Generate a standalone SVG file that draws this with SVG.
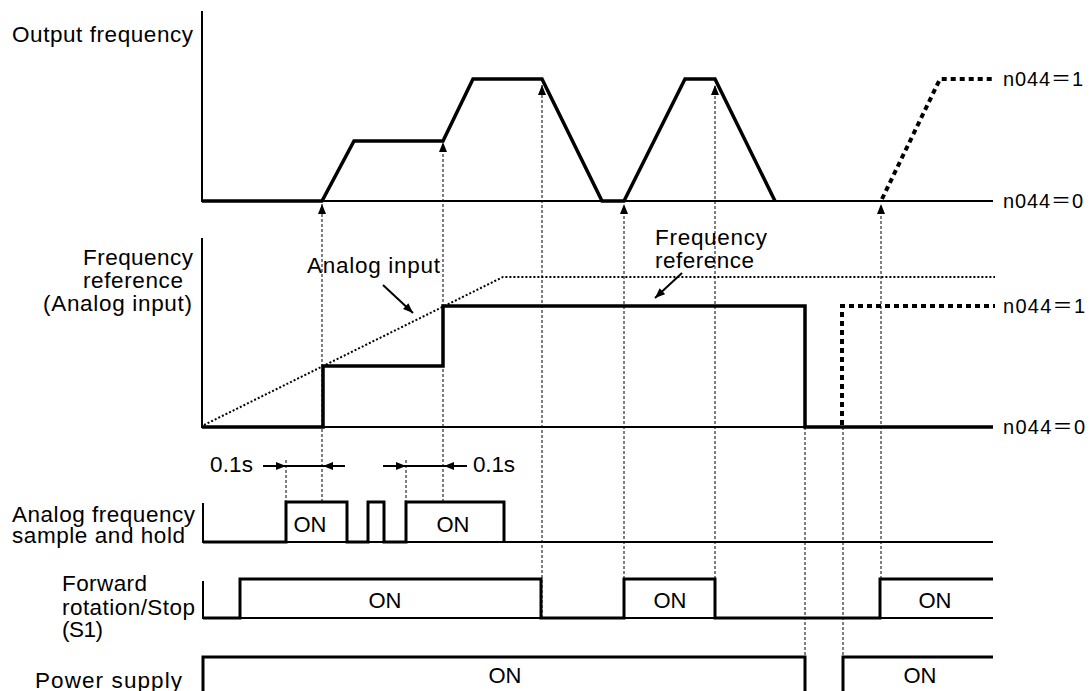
<svg xmlns="http://www.w3.org/2000/svg" width="1090" height="691" viewBox="0 0 1090 691">
<style>
text{font-family:"Liberation Sans",Arial,sans-serif;font-size:22.5px;fill:#000}
.n{font-family:"Liberation Sans","Noto Sans CJK JP",sans-serif;font-size:20px}
.on{font-size:22px;text-anchor:middle}
.ax{fill:none;stroke:#000;stroke-width:2}
.tr{fill:none;stroke:#000;stroke-width:3.5;stroke-linejoin:miter}
.pl{fill:none;stroke:#000;stroke-width:3}
.dv{fill:none;stroke:#000;stroke-width:1;stroke-dasharray:3,2}
.ai{fill:none;stroke:#000;stroke-width:2;stroke-dasharray:2,2}
.n1{fill:none;stroke:#000;stroke-width:4;stroke-dasharray:5,4}
.ar{fill:none;stroke:#000;stroke-width:2}
</style>
<defs>
<marker id="up" viewBox="0 0 10 8" refX="10" refY="4" markerWidth="10" markerHeight="8" markerUnits="userSpaceOnUse" orient="auto">
<path d="M0,0 L10,4 L0,8 Z" fill="#000"/>
</marker>
<marker id="ah" viewBox="0 0 10 8" refX="10" refY="4" markerWidth="11" markerHeight="8" markerUnits="userSpaceOnUse" orient="auto">
<path d="M0,0 L10,4 L0,8 Z" fill="#000"/>
</marker>
</defs>

<g id="output-frequency">
<text x="12" y="42" textLength="181" lengthAdjust="spacing">Output frequency</text>
<path class="ax" d="M202,11 V201 H993"/>
<path class="tr" d="M202,201 H322 L354,141 H443 L473,79 H542 L602,201 H624 L685,79 H715 L775,201"/>
<path class="n1" d="M882,199 L940,79 H995"/>
<text class="n" x="1003" y="86" textLength="80" lengthAdjust="spacing">n044＝1</text>
<text class="n" x="1003" y="208" textLength="80" lengthAdjust="spacing">n044＝0</text>
</g>

<g id="frequency-reference">
<text x="83" y="265" textLength="110" lengthAdjust="spacing">Frequency</text>
<text x="83" y="288" textLength="100" lengthAdjust="spacing">reference</text>
<text x="43" y="311" textLength="149" lengthAdjust="spacing">(Analog input)</text>
<path class="ax" d="M202,238 V427 H993"/>
<path class="ai" d="M204,425 L503,277 H995"/>
<path class="tr" d="M202,427 H323 V366 H443 V306 H805 V427 H993"/>
<path class="n1" d="M842,425 V306 H995"/>
<text class="n" x="1003" y="313" textLength="82" lengthAdjust="spacing">n044＝1</text>
<text class="n" x="1003" y="434" textLength="82" lengthAdjust="spacing">n044＝0</text>
<text x="307" y="273" textLength="133" lengthAdjust="spacing">Analog input</text>
<text x="655" y="245" textLength="112" lengthAdjust="spacing">Frequency</text>
<text x="655" y="268" textLength="99" lengthAdjust="spacing">reference</text>
</g>

<g id="sample-hold">
<text x="12" y="522" textLength="183" lengthAdjust="spacing">Analog frequency</text>
<text x="12" y="543" textLength="173" lengthAdjust="spacing">sample and hold</text>
<path class="ax" d="M203,503 V542 H993"/>
<path class="pl" d="M203,542 H286 V502 H347 V542 H368 V502 H384 V542 H406 V502 H504 V542"/>
<text class="on" x="310" y="532">ON</text>
<text class="on" x="453" y="532">ON</text>
<text x="210" y="472" textLength="43" lengthAdjust="spacing">0.1s</text>
<text x="473" y="472" textLength="42" lengthAdjust="spacing">0.1s</text>
</g>

<g id="forward-rotation">
<text x="62" y="591" textLength="85" lengthAdjust="spacing">Forward</text>
<text x="62" y="615" textLength="133" lengthAdjust="spacing">rotation/Stop</text>
<text x="62" y="637" textLength="41" lengthAdjust="spacing">(S1)</text>
<path class="ax" d="M203,581 V618 H993"/>
<path class="pl" d="M203,618 H240 V579 H541 V618 H624 V579 H715 V618 H880 V579 H993"/>
<text class="on" x="385" y="608">ON</text>
<text class="on" x="670" y="608">ON</text>
<text class="on" x="935" y="608">ON</text>
</g>

<g id="power-supply">
<text x="35" y="688" textLength="147" lengthAdjust="spacing">Power supply</text>
<path class="pl" d="M203,691 V657 H805 V691 M843,691 V657 H993"/>
<text class="on" x="505" y="683">ON</text>
<text class="on" x="920" y="683">ON</text>
</g>

<g id="connectors">
<path class="dv" d="M322,502 V204" marker-end="url(#up)"/>
<path class="dv" d="M443,502 V142" marker-end="url(#up)"/>
<path class="dv" d="M542,618 V85" marker-end="url(#up)"/>
<path class="dv" d="M624,579 V204" marker-end="url(#up)"/>
<path class="dv" d="M715,579 V85" marker-end="url(#up)"/>
<path class="dv" d="M881,579 V204" marker-end="url(#up)"/>
<path class="dv" d="M805,427 V657"/>
<path class="dv" d="M843,427 V657"/>
<path class="dv" d="M286,460 V502"/>
<path class="dv" d="M406,460 V502"/>
<path class="ar" d="M263,466 H286" marker-end="url(#ah)"/>
<path class="ar" d="M286,466 H323"/>
<path class="ar" d="M345,466 H323" marker-end="url(#ah)"/>
<path class="ar" d="M383,466 H406" marker-end="url(#ah)"/>
<path class="ar" d="M406,466 H444"/>
<path class="ar" d="M467,466 H444" marker-end="url(#ah)"/>
<path class="ar" d="M383,285 L413,313" marker-end="url(#ah)"/>
<path class="ar" d="M682,273 L655,298" marker-end="url(#ah)"/>
</g>
</svg>
